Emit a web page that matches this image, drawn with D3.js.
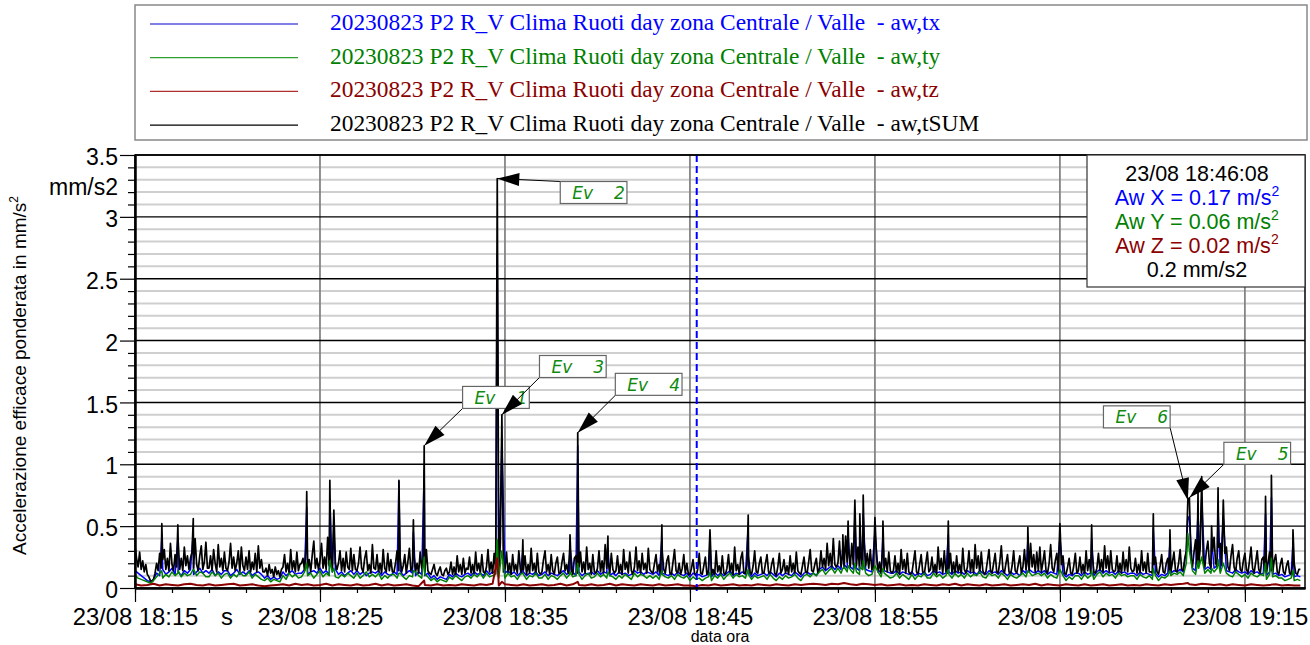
<!DOCTYPE html>
<html>
<head>
<meta charset="utf-8">
<script src="https://cdn.jsdelivr.net/npm/d3@7"></script>
<style>
body { margin: 0; background: #fff; }
svg text { font-family: "Liberation Sans", Arial, sans-serif; }
.legend text { font-family: "Liberation Serif", "Times New Roman", serif; white-space: pre; }
.event text { font-family: "DejaVu Sans", sans-serif; font-style: italic; }
</style>
</head>
<body>
<svg id="chart" width="1310" height="645"></svg>
<script>
// time base of the recording
var startTime = '2023-08-23 18:15:00'
var endTime = '2023-08-23 19:18:15'
var sumStep = 5    // seconds between samples
var xStep = 10
var yStep = 10
var zStep = 20

// aw,tSUM (mm/s2), one value every 5 s, one row per minute
var sumValues = [
  .34,.24,.17,.29,.15,.22,.13,.19,.11,.09,.06,.05,
  .07,.12,.2,.14,.28,.16,.23,.31,.15,.24,.14,.36,
  .19,.14,.27,.17,.38,.15,.24,.14,.33,.18,.26,.15,
  .24,.29,.16,.4,.19,.14,.26,.34,.15,.21,.37,.16,
  .16,.26,.14,.31,.2,.13,.35,.17,.24,.14,.29,.16,
  .14,.21,.36,.16,.25,.14,.2,.3,.13,.33,.18,.14,
  .25,.15,.3,.13,.21,.15,.28,.13,.34,.16,.23,.13,
  .13,.16,.1,.19,.12,.15,.09,.17,.11,.14,.09,.15,
  .17,.27,.13,.2,.12,.31,.15,.22,.13,.29,.14,.19,
  .2,.24,.14,.34,.16,.23,.13,.27,.38,.16,.24,.15,
  .22,.36,.16,.25,.15,.41,.18,.26,.15,.33,.2,.15,
  .2,.3,.14,.24,.13,.29,.17,.15,.32,.14,.27,.15,
  .14,.2,.33,.16,.13,.24,.3,.14,.19,.12,.35,.16,
  .15,.27,.13,.2,.12,.31,.16,.13,.28,.14,.23,.13,
  .13,.2,.3,.14,.25,.13,.18,.27,.12,.21,.32,.14,
  .17,.26,.13,.2,.12,.29,.16,.24,.13,.31,.14,.12,
  .11,.15,.19,.12,.1,.14,.17,.11,.1,.14,.16,.11,
  .13,.21,.11,.17,.1,.26,.13,.19,.11,.24,.12,.16,
  .15,.25,.12,.19,.11,.29,.14,.2,.12,.27,.13,.12,
  .17,.31,.13,.21,.12,.28,.15,.2,.13,.36,.16,.13,
  .16,.29,.12,.2,.11,.27,.14,.19,.12,.3,.15,.12,
  .15,.26,.11,.19,.12,.32,.14,.2,.11,.28,.13,.11,
  .13,.23,.3,.13,.19,.11,.27,.14,.11,.2,.25,.12,
  .12,.21,.28,.14,.19,.12,.31,.15,.11,.24,.26,.12,
  .17,.29,.13,.21,.12,.33,.15,.2,.11,.27,.13,.12,
  .16,.3,.13,.22,.12,.35,.16,.21,.12,.28,.15,.12,
  .14,.26,.12,.19,.11,.31,.15,.21,.12,.29,.14,.11,
  .17,.33,.14,.22,.12,.28,.15,.2,.12,.32,.15,.13,
  .12,.2,.27,.13,.19,.11,.3,.15,.12,.22,.26,.12,
  .11,.21,.31,.14,.12,.2,.11,.16,.27,.12,.2,.11,
  .11,.16,.23,.12,.1,.15,.28,.12,.11,.18,.25,.11,
  .14,.21,.11,.15,.1,.3,.13,.18,.11,.26,.12,.11,
  .16,.27,.12,.2,.11,.33,.14,.19,.11,.24,.29,.12,
  .12,.19,.26,.13,.11,.18,.3,.13,.12,.2,.25,.12,
  .12,.2,.27,.13,.11,.19,.24,.12,.1,.17,.28,.12,
  .15,.23,.12,.18,.11,.26,.13,.2,.12,.29,.14,.12,
  .11,.18,.25,.13,.12,.21,.31,.14,.13,.19,.24,.12,
  .16,.3,.17,.24,.15,.36,.18,.28,.16,.4,.19,.17,
  .2,.38,.17,.27,.16,.42,.21,.31,.17,.36,.19,.2,
  .18,.33,.16,.26,.15,.37,.18,.28,.16,.31,.15,.16,
  .15,.27,.13,.21,.12,.32,.15,.24,.13,.29,.14,.12,
  .14,.26,.12,.2,.11,.31,.15,.23,.12,.28,.13,.11,
  .12,.21,.3,.13,.11,.19,.27,.13,.11,.2,.29,.13,
  .15,.25,.12,.19,.11,.33,.15,.24,.12,.3,.14,.12,
  .16,.28,.12,.21,.11,.26,.13,.19,.11,.32,.15,.12,
  .17,.3,.13,.23,.12,.35,.16,.26,.12,.29,.14,.11,
  .13,.22,.31,.14,.12,.2,.28,.13,.12,.21,.34,.15,
  .12,.2,.27,.13,.11,.18,.3,.14,.12,.19,.26,.12,
  .17,.31,.15,.24,.13,.36,.17,.27,.13,.29,.14,.33,
  .13,.21,.3,.14,.12,.2,.35,.16,.13,.22,.28,.13,
  .12,.19,.26,.12,.11,.17,.24,.12,.11,.18,.28,.12,
  .14,.25,.12,.19,.11,.3,.14,.23,.12,.27,.13,.12,
  .16,.28,.14,.23,.13,.34,.16,.26,.13,.3,.15,.13,
  .14,.26,.12,.2,.12,.29,.14,.23,.13,.33,.16,.13,
  .14,.24,.12,.19,.12,.3,.14,.21,.12,.28,.13,.13,
  .12,.19,.25,.13,.11,.18,.27,.13,.12,.2,.24,.13,
  .13,.21,.29,.14,.13,.2,.31,.15,.14,.24,.3,.71,
  .73,.25,.17,.29,.39,.19,.18,.32,.44,.21,.17,.3,
  .38,.2,.16,.3,.41,.2,.17,.33,.36,.18,.16,.28,
  .33,.17,.14,.26,.35,.17,.13,.24,.3,.15,.13,.22,
  .28,.15,.12,.22,.33,.16,.12,.21,.3,.15,.12,.23,
  .25,.14,.12,.2,.29,.14,.12,.22,.27,.13,.11,.19,
  .24,.13,.11,.18,.22,.12,.11,.19,.2,.12,.11,.15,
  .15
]

// aw,tx, one value every 10 s
var xValues = [
  .14,.12,.1,.08,.06,.05, .07,.12,.1,.15,.11,.13, .16,.11,.13,.1,.14,.12, .15,.11,.13,.16,.12,.14,
  .12,.15,.1,.13,.11,.14, .14,.1,.12,.15,.11,.13, .11,.14,.1,.12,.13,.11, .08,.1,.07,.09,.07,.08,
  .13,.1,.12,.14,.11,.12, .12,.15,.11,.13,.14,.12, .16,.12,.14,.11,.13,.15, .11,.13,.1,.12,.14,.11,
  .14,.11,.13,.1,.12,.13, .12,.14,.1,.13,.11,.1, .13,.11,.14,.1,.12,.14, .12,.1,.13,.11,.1,.12,
  .08,.1,.07,.09,.08,.07, .11,.09,.12,.1,.09,.11, .12,.1,.13,.11,.12,.1, .14,.11,.13,.12,.11,.13,
  .12,.14,.11,.13,.1,.12, .13,.1,.12,.11,.13,.1, .11,.13,.1,.12,.11,.1, .12,.14,.11,.12,.13,.1,
  .13,.1,.12,.11,.13,.11, .14,.11,.13,.12,.1,.12, .1,.13,.11,.12,.1,.11, .14,.12,.13,.11,.13,.12,
  .11,.13,.1,.12,.11,.1, .12,.1,.13,.11,.1,.12, .09,.12,.1,.11,.09,.1, .11,.09,.13,.1,.12,.1,
  .12,.14,.1,.12,.11,.13, .11,.13,.09,.12,.1,.11, .12,.1,.13,.11,.09,.12, .1,.12,.11,.1,.13,.11,
  .09,.12,.13,.11,.12,.1, .15,.17,.14,.16,.18,.15, .18,.15,.19,.16,.17,.15, .16,.14,.17,.15,.14,.13,
  .13,.15,.12,.14,.13,.12, .12,.14,.11,.13,.12,.11, .13,.1,.12,.11,.13,.1, .11,.14,.12,.13,.11,.12,
  .13,.11,.14,.12,.13,.11, .14,.12,.13,.11,.14,.12, .11,.14,.12,.13,.11,.14, .12,.1,.13,.11,.12,.1,
  .14,.12,.15,.13,.12,.14, .12,.14,.11,.13,.12,.11, .1,.12,.09,.11,.1,.12, .12,.1,.13,.11,.12,.1,
  .13,.15,.12,.14,.12,.13, .11,.14,.12,.13,.11,.12, .12,.1,.13,.11,.12,.11, .1,.12,.09,.11,.1,.12,
  .12,.14,.13,.15,.13,.3, .55,.16,.14,.18,.17,.15, .17,.15,.16,.18,.15,.14, .14,.13,.12,.15,.13,.12,
  .13,.11,.14,.12,.13,.11, .12,.1,.13,.11,.12,.1, .11,.09,.1,.11,.09,.1, .09
]

// aw,ty, one value every 10 s
var yValues = [
  .1,.08,.07,.06,.05,.04, .06,.09,.12,.08,.11,.09, .13,.1,.14,.09,.12,.1, .11,.15,.1,.13,.12,.09,
  .09,.13,.1,.12,.08,.11, .12,.08,.11,.09,.13,.1, .1,.13,.08,.11,.09,.07, .06,.08,.05,.07,.06,.05,
  .1,.07,.12,.09,.11,.08, .09,.13,.1,.12,.08,.11, .14,.09,.12,.1,.13,.09, .08,.11,.09,.12,.1,.08,
  .12,.08,.1,.13,.09,.11, .09,.12,.07,.1,.08,.11, .11,.08,.12,.09,.07,.1, .09,.13,.1,.08,.11,.09,
  .06,.08,.05,.07,.06,.05, .09,.07,.1,.08,.06,.09, .1,.08,.11,.09,.12,.08, .12,.09,.1,.11,.08,.1,
  .08,.12,.09,.1,.07,.11, .11,.07,.1,.09,.12,.08, .08,.11,.07,.1,.09,.07, .1,.12,.08,.11,.09,.1,
  .11,.07,.1,.12,.08,.09, .12,.09,.11,.08,.1,.09, .07,.1,.08,.11,.09,.07, .12,.09,.11,.1,.08,.1,
  .08,.1,.07,.11,.09,.08, .1,.07,.11,.09,.08,.1, .06,.09,.07,.08,.06,.08, .09,.06,.1,.08,.11,.07,
  .1,.12,.08,.11,.09,.1, .08,.11,.07,.1,.08,.09, .1,.07,.11,.08,.06,.09, .07,.1,.08,.09,.11,.08,
  .06,.1,.11,.09,.12,.1, .13,.15,.11,.14,.16,.12, .16,.12,.17,.13,.15,.12, .13,.11,.15,.12,.1,.11,
  .1,.13,.09,.12,.1,.08, .09,.12,.08,.11,.09,.07, .11,.07,.1,.09,.12,.08, .08,.12,.09,.11,.08,.1,
  .11,.08,.12,.09,.11,.08, .12,.09,.11,.1,.13,.09, .08,.12,.1,.11,.08,.12, .1,.07,.11,.09,.08,.1,
  .12,.09,.13,.1,.11,.12, .1,.12,.08,.11,.09,.08, .07,.1,.06,.09,.07,.1, .1,.07,.11,.08,.1,.07,
  .11,.13,.09,.12,.1,.11, .08,.12,.1,.11,.09,.1, .1,.07,.11,.09,.08,.1, .07,.1,.06,.09,.08,.1,
  .1,.12,.11,.13,.1,.2, .3,.14,.11,.16,.13,.12, .15,.12,.13,.16,.12,.11, .12,.1,.09,.13,.11,.09,
  .11,.08,.12,.1,.09,.11, .1,.07,.11,.09,.1,.08, .08,.06,.07,.08,.06,.07, .06
]

// aw,tz, one value every 20 s
var zValues = [
  .03,.02,.025,.035,.02,.03,.025,.02,.03,.035,.025,.02,.03,.02,.025,.03,.035,.02,
  .025,.03,.02,.015,.02,.025,.03,.02,.035,.025,.03,.02,.025,.035,.02,.03,.025,.02,
  .03,.02,.025,.035,.02,.03,.02,.025,.03,.02,.015,.025,.02,.03,.02,.025,.02,.03,
  .025,.02,.03,.025,.035,.02,.03,.025,.02,.03,.02,.025,.03,.02,.025,.035,.02,.03,
  .025,.02,.03,.02,.025,.035,.02,.03,.025,.02,.03,.025,.02,.03,.02,.025,.03,.02,
  .02,.015,.025,.02,.03,.02,.025,.03,.02,.025,.02,.03,.025,.02,.03,.025,.02,.03,
  .025,.03,.035,.03,.025,.035,.03,.04,.03,.025,.035,.03,.025,.03,.02,.025,.03,.02,
  .025,.02,.03,.025,.02,.03,.025,.035,.02,.03,.025,.02,.03,.02,.025,.03,.02,.025,
  .03,.025,.035,.02,.03,.025,.02,.03,.025,.02,.03,.02,.025,.03,.02,.025,.03,.02,
  .025,.02,.03,.025,.02,.03,.025,.03,.035,.03,.025,.035,.03,.025,.03,.02,.03,.025,
  .02,.03,.025,.02,.025,.03,.02,.025,.02, .02
]

// short peaks between the regular samples
var peakTimes = ['18:16:27','18:17:19','18:18:09','18:24:17','18:25:32','18:25:45','18:29:16','18:30:03',
  '18:30:38','18:34:35','18:34:50','18:35:58','18:38:31','18:38:56','18:40:34','18:43:29','18:46:05',
  '18:48:09','18:53:16','18:53:33','18:53:55','18:54:11','18:54:22','18:55:00','18:55:26','18:58:58',
  '19:03:16','19:05:00','19:06:43','19:10:03','19:10:57','19:11:55','19:12:28','19:12:40','19:13:12',
  '19:13:33','19:13:50','19:16:07','19:16:26','19:17:36']
var peakSum = [0.52,0.51,0.56,0.78,0.87,0.63,0.87,0.55, 1.15,3.31,1.40,0.39,0.43,1.255,0.42,0.51,0.47,
  0.59,0.43,0.54,0.71,0.6,0.75,0.57,0.54,0.54, 0.49,0.52,0.51,0.6,0.47,null,0.77,0.9,0.5,
  0.81,0.71,0.74,0.91,0.47]
var peakX = [0.42,0.4,0.45,0.65,0.72,0.5,0.86,0.45, 0.95,2.7,1.2,0.3,0.33,1.15,0.32,0.4,0.37,
  0.5,0.33,0.43,0.58,0.48,0.6,0.45,0.43,0.43, 0.39,0.41,0.4,0.48,0.37,0.58,0.62,0.72,0.4,
  0.65,0.57,0.6,0.73,0.37]
var peakY = [0.14,0.12,0.15,0.2,0.22,0.16,0.12,0.14, 0.25,0.39,0.3,0.12,0.13,0.2,0.13,0.14,0.13,
  0.15,0.16,0.18,0.2,0.17,0.22,0.18,0.16,0.15, 0.14,0.15,0.14,0.16,0.14,0.44,0.22,0.25,0.16,
  0.23,0.2,0.2,0.24,0.14]
var peakZ = [null,null,null,null,null,null,null,null, 0.06,0.24,0.05,null,null,0.05,null,null,null,
  null,null,null,null,null,null,null,null,null, null,null,null,null,null,0.04,null,null,null,
  null,null,null,null,null]

var eventNames = ['1', '2', '3', '4', '5', '6']
var eventTimes = ['18:30:38', '18:34:35', '18:34:50', '18:38:56', '19:12:00', '19:11:55']
var eventValues = [1.15, 3.31, 1.40, 1.255, 0.73, 0.71]

var cursorTime = '18:45:22'
var infoLines = [
  { text: '23/08 18:46:08', sup: false, color: '#000' },
  { text: 'Aw X = 0.17 m/s', sup: true, color: '#0000ff' },
  { text: 'Aw Y = 0.06 m/s', sup: true, color: '#008000' },
  { text: 'Aw Z = 0.02 m/s', sup: true, color: '#8b0000' },
  { text: '0.2 mm/s2', sup: false, color: '#000' }
]

var legendLabels = [
  '20230823 P2 R_V Clima Ruoti day zona Centrale / Valle  - aw,tx',
  '20230823 P2 R_V Clima Ruoti day zona Centrale / Valle  - aw,ty',
  '20230823 P2 R_V Clima Ruoti day zona Centrale / Valle  - aw,tz',
  '20230823 P2 R_V Clima Ruoti day zona Centrale / Valle  - aw,tSUM'
]
var legendTextColors = ['#0000ff', '#008000', '#8b0000', '#000000']
var legendLineColors = ['#0000cc', '#2ea02e', '#b03030', '#000000']

var yMajorTicks = [0, 0.5, 1, 1.5, 2, 2.5, 3, 3.5]

// ---- layout ----
var plot = { left: 135, right: 1305, top: 155, bottom: 588 }
var labelOffsets = [[38.4, -59.3], [63, 3], [37.6, -59.3], [37.6, -59.4], [34.5, -55.4], [-84.4, -94.3]]

var parseFull = d3.timeParse('%Y-%m-%d %H:%M:%S')
var start = parseFull(startTime)
var end = parseFull(endTime)
function parseClock (s) { return parseFull('2023-08-23 ' + s) }

var svg = d3.select('#chart')

var x = d3.scaleTime().domain([start, end]).range([plot.left, plot.right])
var y = d3.scaleLinear().domain([0, 3.5]).range([plot.bottom, plot.top])

function buildSeries (values, step, peakVals) {
  var pts = values.map(function (v, i) {
    return { t: new Date(start.getTime() + i * step * 1000), v: v }
  })
  peakTimes.forEach(function (s, i) {
    if (peakVals[i] == null) return
    var t = parseClock(s)
    pts = pts.filter(function (d) { return d.t.getTime() !== t.getTime() })
    pts.push({ t: t, v: peakVals[i] })
  })
  pts.sort(function (a, b) { return a.t - b.t })
  return pts
}

// grid
var minorY = d3.range(1, 35).map(function (d) { return d / 10 }).filter(function (d) { return Math.round(d * 10) % 5 !== 0 })
svg.append('g').selectAll('line').data(minorY).join('line')
  .attr('x1', plot.left).attr('x2', plot.right)
  .attr('y1', function (d) { return y(d) }).attr('y2', function (d) { return y(d) })
  .attr('stroke', '#cfcfcf').attr('stroke-width', 2)

var xMajor = d3.range(0, 61, 10).map(function (m) { return d3.timeMinute.offset(start, m) })
var xMinor = d3.range(0, 64, 2).map(function (m) { return d3.timeMinute.offset(start, m) })

svg.append('g').selectAll('line').data(xMajor.slice(1)).join('line')
  .attr('x1', function (d) { return x(d) }).attr('x2', function (d) { return x(d) })
  .attr('y1', plot.top).attr('y2', plot.bottom)
  .attr('stroke', '#858585').attr('stroke-width', 1.8)

svg.append('g').selectAll('line').data(yMajorTicks.slice(1)).join('line')
  .attr('x1', plot.left).attr('x2', plot.right)
  .attr('y1', function (d) { return y(d) }).attr('y2', function (d) { return y(d) })
  .attr('stroke', '#000').attr('stroke-width', 1.4)

// series
svg.append('clipPath').attr('id', 'clip').append('rect')
  .attr('x', plot.left).attr('y', plot.top)
  .attr('width', plot.right - plot.left).attr('height', plot.bottom - plot.top)

var line = d3.line().x(function (d) { return x(d.t) }).y(function (d) { return y(d.v) })
var series = [
  { pts: buildSeries(xValues, xStep, peakX), color: '#0000ff', w: 1.5 },
  { pts: buildSeries(sumValues, sumStep, peakSum), color: '#000000', w: 1.7 },
  { pts: buildSeries(yValues, yStep, peakY), color: '#008000', w: 1.5 },
  { pts: buildSeries(zValues, zStep, peakZ), color: '#8b0000', w: 2 }
]
svg.append('g').attr('clip-path', 'url(#clip)').selectAll('path').data(series).join('path')
  .attr('d', function (d) { return line(d.pts) })
  .attr('fill', 'none')
  .attr('stroke', function (d) { return d.color })
  .attr('stroke-width', function (d) { return d.w })
  .attr('stroke-linejoin', 'round')

// cursor
var cx = x(parseClock(cursorTime))
svg.append('line')
  .attr('x1', cx).attr('x2', cx).attr('y1', plot.top).attr('y2', plot.bottom + 4)
  .attr('stroke', '#0000ff').attr('stroke-width', 2).attr('stroke-dasharray', '7,4')

// frame
svg.append('rect')
  .attr('x', plot.left).attr('y', plot.top)
  .attr('width', plot.right - plot.left).attr('height', plot.bottom - plot.top)
  .attr('fill', 'none').attr('stroke', '#000').attr('stroke-width', 1.5)

// axes
var yAxisMajor = svg.append('g').attr('transform', 'translate(' + plot.left + ',0)')
  .call(d3.axisLeft(y).tickValues(yMajorTicks).tickSize(15).tickSizeOuter(0).tickFormat(d3.format('')))
var yAxisMinor = svg.append('g').attr('transform', 'translate(' + plot.left + ',0)')
  .call(d3.axisLeft(y).tickValues(minorY).tickSize(7).tickSizeOuter(0).tickFormat(''))
var xAxisMajor = svg.append('g').attr('transform', 'translate(0,' + plot.bottom + ')')
  .call(d3.axisBottom(x).tickValues(xMajor).tickSize(14).tickSizeOuter(0).tickFormat(d3.timeFormat('%d/%m %H:%M')))
var xAxisMinor = svg.append('g').attr('transform', 'translate(0,' + plot.bottom + ')')
  .call(d3.axisBottom(x).tickValues(xMinor).tickSize(5).tickSizeOuter(0).tickFormat(''))

svg.selectAll('.domain').attr('stroke', '#000').attr('stroke-width', 2)
svg.selectAll('.tick line').attr('stroke', '#000').attr('stroke-width', 1.2)
yAxisMajor.selectAll('text').attr('font-size', 23).attr('x', -17).attr('dy', '0.42em').attr('fill', '#000')
  .style('font-family', '"Liberation Sans", Arial, sans-serif')
xAxisMajor.selectAll('text').attr('font-size', 23.8).attr('y', 18).attr('dy', '0.8em').attr('fill', '#000')
  .style('font-family', '"Liberation Sans", Arial, sans-serif')

svg.append('text').attr('x', 118).attr('y', 195).attr('text-anchor', 'end')
  .attr('font-size', 23).text('mm/s2')
svg.append('text').attr('x', 227).attr('y', 625).attr('text-anchor', 'middle')
  .attr('font-size', 23.8).text('s')
svg.append('text').attr('x', (plot.left + plot.right) / 2).attr('y', 642).attr('text-anchor', 'middle')
  .attr('font-size', 16).text('data ora')

var yTitle = svg.append('text')
  .attr('transform', 'translate(26,' + ((plot.top + plot.bottom) / 2 + 4) + ') rotate(-90)')
  .attr('text-anchor', 'middle').attr('font-size', 19)
yTitle.append('tspan').text('Accelerazione efficace ponderata in mm/s')
yTitle.append('tspan').attr('font-size', 12).attr('dy', -8).text('2')

// info box
var info = svg.append('g')
info.append('rect').attr('x', 1087).attr('y', 155).attr('width', 218).attr('height', 132)
  .attr('fill', '#fff').attr('stroke', '#333').attr('stroke-width', 1.2)
infoLines.forEach(function (l, i) {
  var t = info.append('text').attr('x', 1197).attr('y', 181 + i * 24)
    .attr('text-anchor', 'middle').attr('font-size', 21.5).attr('fill', l.color)
  t.append('tspan').text(l.text)
  if (l.sup) t.append('tspan').attr('font-size', 14).attr('dy', -9).text('2')
})

// events
eventNames.forEach(function (name, i) {
  var tx = x(parseClock(eventTimes[i]))
  var ty = y(eventValues[i])
  var bw = 66.7
  var bh = 22
  var bx = tx + labelOffsets[i][0]
  var by = ty + labelOffsets[i][1]
  var corners = [[bx, by], [bx + bw, by], [bx, by + bh], [bx + bw, by + bh]]
  var c = corners.reduce(function (a, b) {
    return Math.hypot(a[0] - tx, a[1] - ty) <= Math.hypot(b[0] - tx, b[1] - ty) ? a : b
  })
  var g = svg.append('g').attr('class', 'event')
  g.append('line').attr('x1', c[0]).attr('y1', c[1]).attr('x2', tx).attr('y2', ty)
    .attr('stroke', '#000').attr('stroke-width', 1)
  var ang = Math.atan2(ty - c[1], tx - c[0])
  var len = 22
  var hw = 6.5
  var bxp = tx - len * Math.cos(ang)
  var byp = ty - len * Math.sin(ang)
  var px = -Math.sin(ang) * hw
  var py = Math.cos(ang) * hw
  g.append('polygon')
    .attr('points', [[tx, ty], [bxp + px, byp + py], [bxp - px, byp - py]].map(function (p) { return p.join(',') }).join(' '))
    .attr('fill', '#000')
  g.append('rect').attr('x', bx).attr('y', by).attr('width', bw).attr('height', bh)
    .attr('fill', '#fff').attr('stroke', '#666').attr('stroke-width', 1.2)
  g.append('text').attr('x', bx + 12).attr('y', by + 17.5).attr('font-size', 17).attr('fill', '#108a10').text('Ev')
  g.append('text').attr('x', bx + bw - 2).attr('y', by + 17.5).attr('text-anchor', 'end')
    .attr('font-size', 17).attr('fill', '#108a10').text(name)
})

// legend
var legend = svg.append('g').attr('class', 'legend')
legend.append('rect').attr('x', 135).attr('y', 5).attr('width', 1172).attr('height', 135)
  .attr('fill', '#fff').attr('stroke', '#888').attr('stroke-width', 1.5)
legendLabels.forEach(function (label, i) {
  var ly = 24 + i * 33.7
  legend.append('line').attr('x1', 150).attr('x2', 298).attr('y1', ly).attr('y2', ly)
    .attr('stroke', legendLineColors[i]).attr('stroke-width', 1.2)
  legend.append('text').attr('x', 330).attr('y', ly + 6).attr('font-size', 23.4)
    .attr('fill', legendTextColors[i]).text(label)
})
</script>
</body>
</html>
